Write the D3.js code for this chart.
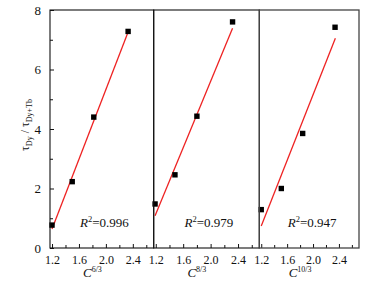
<!DOCTYPE html>
<html><head><meta charset="utf-8">
<script src="https://cdn.jsdelivr.net/npm/d3@7"></script>
<style>body{margin:0;background:#fff}svg{display:block}svg text{font-family:"Liberation Serif","Times New Roman",serif !important;fill:#111}</style>
</head><body><svg id="c" width="387" height="284"></svg>
<script>
const panelExp = ["6/3", "8/3", "10/3"];
const rSquared = ["0.996", "0.979", "0.947"];
const xVals1 = [1.20, 1.50, 1.82, 2.33];
const yVals1 = [0.77, 2.23, 4.40, 7.28];
const xVals2 = [1.19, 1.48, 1.80, 2.32];
const yVals2 = [1.48, 2.46, 4.43, 7.60];
const xVals3 = [1.20, 1.51, 1.84, 2.34];
const yVals3 = [1.29, 2.00, 3.85, 7.42];
const fitX1 = [1.20, 2.33], fitY1 = [0.64, 7.26];
const fitX2 = [1.19, 2.32], fitY2 = [1.08, 7.39];
const fitX3 = [1.20, 2.345], fitY3 = [0.74, 7.05];
const xMajor = [1.2, 1.6, 2.0, 2.4];
const xMinor = [1.4, 1.8, 2.2, 2.6];
const yMajor = [0, 2, 4, 6, 8];
const yMinor = [1, 3, 5, 7];

const svg = d3.select("#c");
const plotTop = 10, plotBottom = 248;
const edges = [50, 153.7, 259.3, 359];
const y = d3.scaleLinear().domain([0, 8]).range([plotBottom, plotTop]);
const panels = [
  {xs: xVals1, ys: yVals1, fx: fitX1, fy: fitY1},
  {xs: xVals2, ys: yVals2, fx: fitX2, fy: fitY2},
  {xs: xVals3, ys: yVals3, fx: fitX3, fy: fitY3}
];

panels.forEach((p, i) => {
  const x = d3.scaleLinear().domain([1.17, 2.71]).range([edges[i], edges[i + 1]]);
  const g = svg.append("g");
  const ax = g.append("g").attr("transform", `translate(0,${plotBottom})`)
    .call(d3.axisBottom(x).tickValues(xMajor).tickSizeInner(-4).tickSizeOuter(0).tickPadding(7).tickFormat(d3.format(".1f")));
  ax.attr("font-size", null).attr("font-family", null);
  ax.select(".domain").remove();
  ax.selectAll("text").style("font-size", "12px");
  ax.selectAll("line").attr("stroke", "#111");
  const axm = g.append("g").attr("transform", `translate(0,${plotBottom})`)
    .call(d3.axisBottom(x).tickValues(xMinor).tickSizeInner(-3).tickSizeOuter(0).tickFormat(""));
  axm.select(".domain").remove();
  axm.selectAll("line").attr("stroke", "#111");

  g.append("path")
    .datum(d3.zip(p.fx, p.fy))
    .attr("d", d3.line().x(d => x(d[0])).y(d => y(d[1])))
    .attr("stroke", "#ee2222").attr("stroke-width", 1.3).attr("fill", "none");
  g.selectAll("rect.pt").data(d3.zip(p.xs, p.ys)).enter().append("rect")
    .attr("x", d => x(d[0]) - 2.7).attr("y", d => y(d[1]) - 2.7)
    .attr("width", 5.4).attr("height", 5.4).attr("fill", "#000");

  const cx = (x(1.2) + x(2.4)) / 2;
  const t = g.append("text").attr("x", cx + 12).attr("y", 227).attr("text-anchor", "middle").style("font-size", "13px");
  t.append("tspan").attr("font-style", "italic").text("R");
  t.append("tspan").style("font-size", "8.5px").attr("dy", -5).text("2");
  t.append("tspan").attr("dy", 5).text("=" + rSquared[i]);

  const xl = g.append("text").attr("x", cx).attr("y", 277).attr("text-anchor", "middle").style("font-size", "13px");
  xl.append("tspan").attr("font-style", "italic").text("C");
  xl.append("tspan").style("font-size", "8px").attr("dy", -5).text(panelExp[i]);

  g.append("rect").attr("x", edges[i]).attr("y", plotTop)
    .attr("width", edges[i + 1] - edges[i]).attr("height", plotBottom - plotTop)
    .attr("fill", "none").attr("stroke", i === 2 ? "#444" : "#111").attr("stroke-width", i === 2 ? 1.3 : 1.1);
});

const ay = svg.append("g").attr("transform", `translate(${edges[0]},0)`)
  .call(d3.axisLeft(y).tickValues(yMajor).tickSizeInner(-4).tickSizeOuter(0).tickPadding(9).tickFormat(d3.format("d")));
ay.attr("font-size", null).attr("font-family", null);
ay.select(".domain").remove();
ay.selectAll("text").style("font-size", "13px");
ay.selectAll("line").attr("stroke", "#111");
const aym = svg.append("g").attr("transform", `translate(${edges[0]},0)`)
  .call(d3.axisLeft(y).tickValues(yMinor).tickSizeInner(-3).tickSizeOuter(0).tickFormat(""));
aym.select(".domain").remove();
aym.selectAll("line").attr("stroke", "#111");

const yl = svg.append("text").attr("transform", "translate(29,125) rotate(-90)")
  .attr("text-anchor", "middle").style("font-size", "12px");
yl.append("tspan").text("τ");
yl.append("tspan").style("font-size", "8px").attr("dy", 3).text("Dy");
yl.append("tspan").attr("dy", -3).text(" / τ");
yl.append("tspan").style("font-size", "8px").attr("dy", 3).text("Dy+Tb");
</script></body></html>
